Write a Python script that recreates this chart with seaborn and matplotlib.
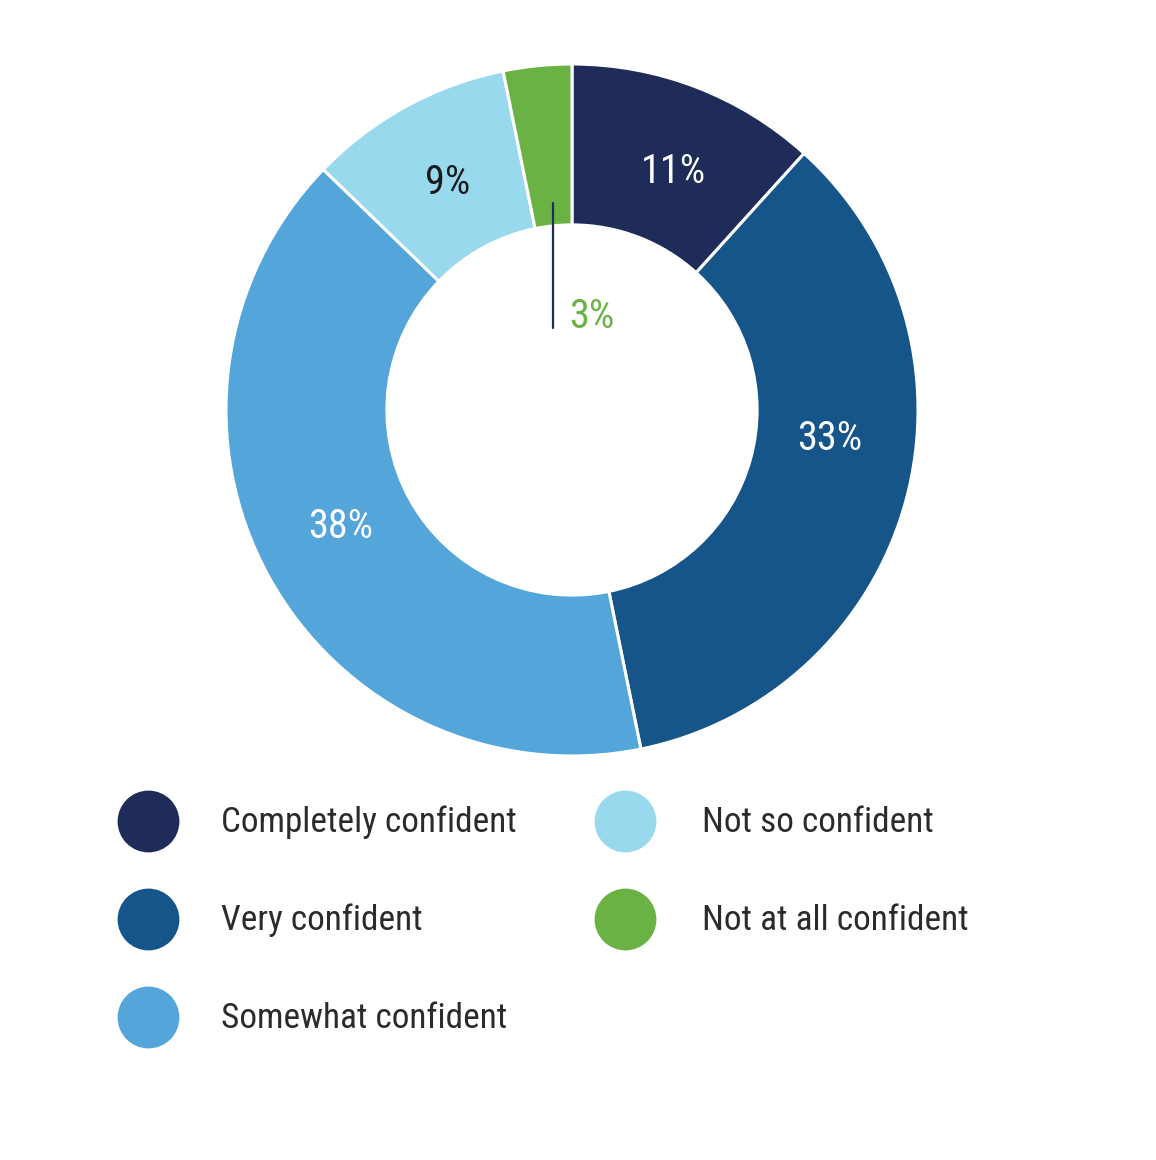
import numpy as np
import matplotlib
matplotlib.use("Agg")
import matplotlib.pyplot as plt
import seaborn as sns

sns.set_theme(style="white")
plt.rcParams['font.family'] = ['Roboto Condensed', 'Liberation Sans Narrow', 'Roboto', 'DejaVu Sans']

labels = ['Completely confident', 'Very confident', 'Somewhat confident',
          'Not so confident', 'Not at all confident']
values = [11, 33, 38, 9, 3]
pct_text = ['11%', '33%', '38%', '9%', '3%']
colors = ['#1f2b59', '#16558a', '#53a5da', '#98d9ee', '#6ab244']
text_colors = ['white', 'white', 'white', '#1a1a1a', None]
label_shift = [-2, 9, -2, 0, 0]   # degrees, nudges label off the wedge middle

fig = plt.figure(figsize=(11.56, 11.6), dpi=100)

# donut
ax = fig.add_axes([226 / 1156, 404 / 1160, 692 / 1156, 692 / 1160])
wedges, _ = ax.pie(values, colors=colors, startangle=90, counterclock=False,
                   radius=1.0,
                   wedgeprops=dict(width=0.465, edgecolor='white', linewidth=2.2))
ax.set_aspect('equal')
ax.set_xlim(-1, 1)
ax.set_ylim(-1, 1)
ax.axis('off')

for w, t, c, sh in zip(wedges, pct_text, text_colors, label_shift):
    mid = np.deg2rad((w.theta1 + w.theta2) / 2 + sh)
    if c is not None:
        ax.text(0.75 * np.cos(mid), 0.75 * np.sin(mid), t, color=c,
                fontsize=29, ha='center', va='center')
    else:
        x0 = 0.6 * np.cos(mid) + 0.005
        ax.plot([x0, x0], [0.6 * np.sin(mid), 0.236], color='#1f2b59', lw=1.6)
        ax.text(x0 + 0.048, 0.27, t, color=w.get_facecolor(),
                fontsize=29, ha='left', va='center')

# legend
lax = fig.add_axes([0, 0, 1, 1])
lax.set_xlim(0, 1156)
lax.set_ylim(1160, 0)
lax.axis('off')
for i, (lab, col) in enumerate(zip(labels, colors)):
    cx = 148 + (i // 3) * 477
    cy = 821 + (i % 3) * 98
    lax.scatter([cx], [cy], s=(44.5) ** 2, color=col, linewidths=0)
    lax.text(cx + 73 + 4 * (i // 3), cy + 1, lab, fontsize=25.4, color='#2b2b2b',
             ha='left', va='center')

fig.savefig('out.png', dpi=100, facecolor='white')
